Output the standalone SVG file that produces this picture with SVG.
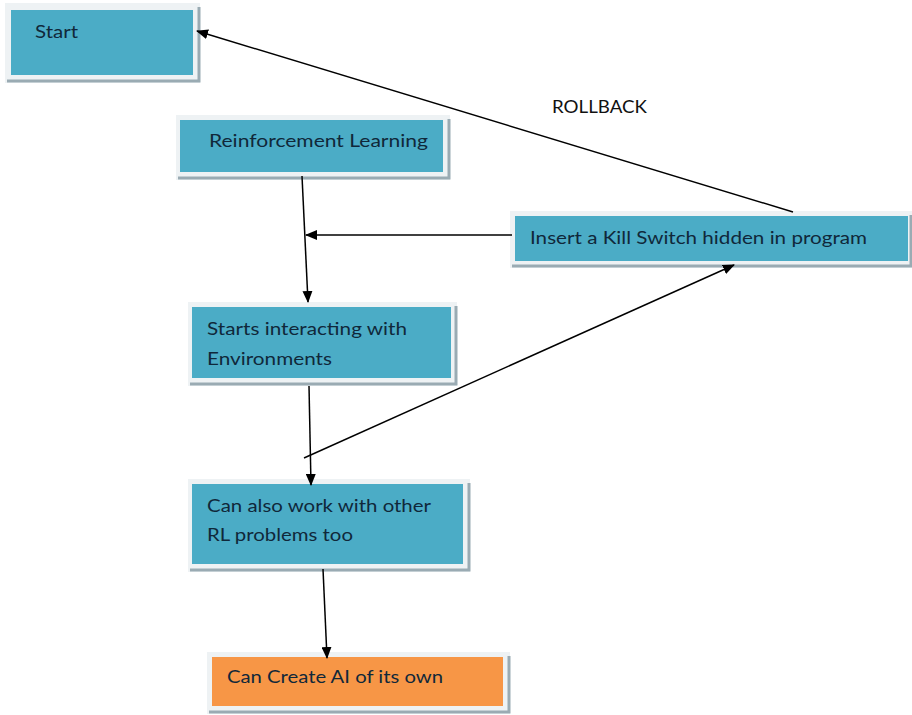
<svg xmlns="http://www.w3.org/2000/svg" width="912" height="715" viewBox="0 0 912 715">
<defs>
<marker id="ah" markerWidth="12" markerHeight="10" refX="11" refY="5" orient="auto" markerUnits="userSpaceOnUse">
<path d="M0,0 L12,5 L0,10 Z" fill="#000"/>
</marker>
<style>
.frame{fill:#eef2f4;}
.shadow{fill:none;stroke:#9aabb3;stroke-width:3;}
.blue{fill:#4bacc6;}
.orange{fill:#f79646;}
.t{font-family:Lato,"Open Sans","Liberation Sans",sans-serif;font-size:18px;fill:#10283a;}
.lbl{font-family:Lato,"Open Sans","Liberation Sans",sans-serif;font-size:18px;fill:#111;}
.c{stroke:#000;stroke-width:1.5;fill:none;marker-end:url(#ah);}
</style>
</defs>
<rect width="912" height="715" fill="#fff"/>
<g id="start">
<rect class="frame" x="5" y="3" width="195" height="80"/>
<path class="shadow" d="M7,81 H199 V7"/>
<rect class="blue" x="11" y="10" width="182" height="65"/>
<text class="t" x="35" y="38" textLength="43" lengthAdjust="spacingAndGlyphs">Start</text>
</g>
<g id="rl">
<rect class="frame" x="176" y="115" width="274" height="65"/>
<path class="shadow" d="M178,178 H449 V119"/>
<rect class="blue" x="180" y="120" width="263" height="52"/>
<text class="t" x="209" y="147" textLength="219" lengthAdjust="spacingAndGlyphs">Reinforcement Learning</text>
</g>
<g id="kill">
<rect class="frame" x="510" y="211" width="402" height="57"/>
<path class="shadow" d="M512,266 H911 V215"/>
<rect class="blue" x="515" y="216" width="393" height="45"/>
<text class="t" x="530" y="244" textLength="337" lengthAdjust="spacingAndGlyphs">Insert a Kill Switch hidden in program</text>
</g>
<g id="starts">
<rect class="frame" x="188" y="302" width="269" height="84"/>
<path class="shadow" d="M190,384 H456 V306"/>
<rect class="blue" x="192" y="307" width="259" height="71"/>
<text class="t" x="207" y="335" textLength="200" lengthAdjust="spacingAndGlyphs">Starts interacting with</text>
<text class="t" x="207" y="365" textLength="125" lengthAdjust="spacingAndGlyphs">Environments</text>
</g>
<g id="canalso">
<rect class="frame" x="188" y="479" width="282" height="93"/>
<path class="shadow" d="M190,570 H469 V483"/>
<rect class="blue" x="192" y="484" width="271" height="80"/>
<text class="t" x="207" y="512" textLength="224" lengthAdjust="spacingAndGlyphs">Can also work with other</text>
<text class="t" x="207" y="541" textLength="146" lengthAdjust="spacingAndGlyphs">RL problems too</text>
</g>
<g id="create">
<rect class="frame" x="207" y="652" width="303" height="62"/>
<path class="shadow" d="M209,712 H509 V656"/>
<rect class="orange" x="212" y="657" width="291" height="49"/>
<text class="t" x="227" y="683" textLength="216" lengthAdjust="spacingAndGlyphs">Can Create AI of its own</text>
</g>
<g id="connectors">
<line class="c" x1="302" y1="176" x2="308" y2="302"/>
<line class="c" x1="512" y1="235" x2="306" y2="235"/>
<line class="c" x1="309" y1="386" x2="311" y2="485"/>
<line class="c" x1="304" y1="458" x2="734" y2="265"/>
<line class="c" x1="793" y1="212" x2="197" y2="31"/>
<line class="c" x1="323" y1="569" x2="327" y2="658"/>
<text class="lbl" x="552" y="113" textLength="95" lengthAdjust="spacingAndGlyphs">ROLLBACK</text>
</g>
</svg>
